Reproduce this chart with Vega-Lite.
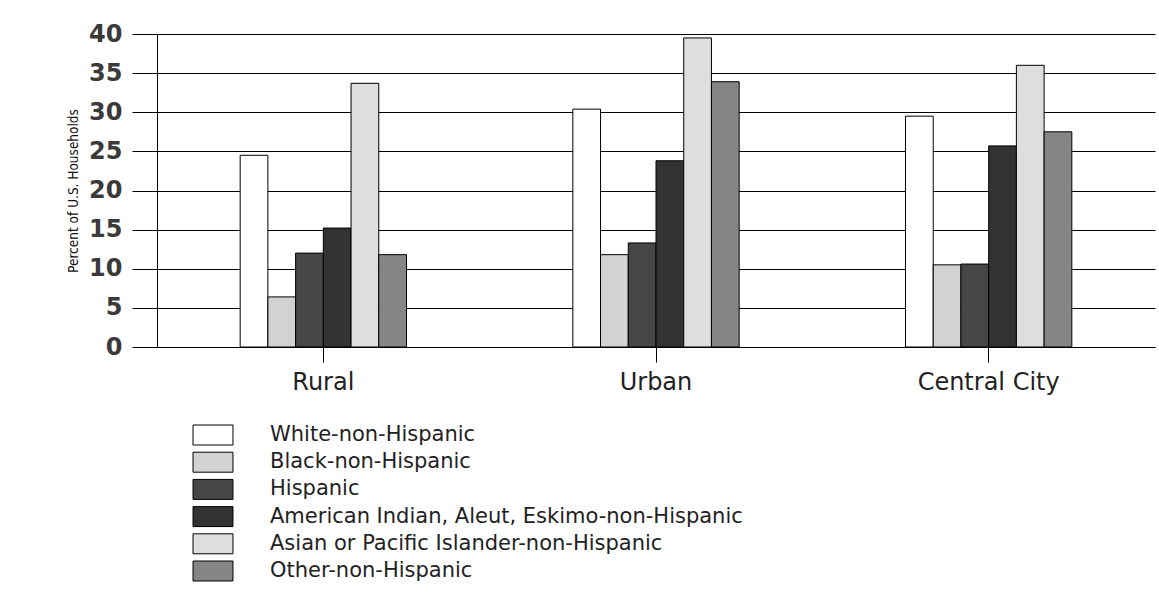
{
  "$schema": "https://vega.github.io/schema/vega-lite/v6.json",
  "autosize": {"type": "none"},
  "padding": {"left": 157, "top": 34, "right": 2, "bottom": 255},
  "width": 998,
  "height": 313,
  "background": "white",
  "config": {
    "view": {"stroke": null},
    "font": "DejaVu Sans"
  },
  "data": {
    "values": [
      {"area": "Rural", "group": "White-non-Hispanic", "pct": 24.5},
      {"area": "Rural", "group": "Black-non-Hispanic", "pct": 6.4},
      {"area": "Rural", "group": "Hispanic", "pct": 12.0},
      {"area": "Rural", "group": "American Indian, Aleut, Eskimo-non-Hispanic", "pct": 15.2},
      {"area": "Rural", "group": "Asian or Pacific Islander-non-Hispanic", "pct": 33.7},
      {"area": "Rural", "group": "Other-non-Hispanic", "pct": 11.8},
      {"area": "Urban", "group": "White-non-Hispanic", "pct": 30.4},
      {"area": "Urban", "group": "Black-non-Hispanic", "pct": 11.8},
      {"area": "Urban", "group": "Hispanic", "pct": 13.3},
      {"area": "Urban", "group": "American Indian, Aleut, Eskimo-non-Hispanic", "pct": 23.8},
      {"area": "Urban", "group": "Asian or Pacific Islander-non-Hispanic", "pct": 39.5},
      {"area": "Urban", "group": "Other-non-Hispanic", "pct": 33.9},
      {"area": "Central City", "group": "White-non-Hispanic", "pct": 29.5},
      {"area": "Central City", "group": "Black-non-Hispanic", "pct": 10.5},
      {"area": "Central City", "group": "Hispanic", "pct": 10.6},
      {"area": "Central City", "group": "American Indian, Aleut, Eskimo-non-Hispanic", "pct": 25.7},
      {"area": "Central City", "group": "Asian or Pacific Islander-non-Hispanic", "pct": 36.0},
      {"area": "Central City", "group": "Other-non-Hispanic", "pct": 27.5}
    ]
  },
  "mark": {"type": "bar", "stroke": "black", "strokeWidth": 1},
  "encoding": {
    "x": {
      "field": "area", "type": "nominal",
      "sort": ["Rural", "Urban", "Central City"],
      "scale": {"paddingInner": 0.5, "paddingOuter": 0.25},
      "axis": {
        "title": null, "labelAngle": 0, "labelFontSize": 24, "labelColor": "#222",
        "labelPadding": 8, "tickSize": 15, "tickColor": "black",
        "domainColor": "black", "grid": false
      }
    },
    "xOffset": {
      "field": "group", "type": "nominal",
      "sort": ["White-non-Hispanic", "Black-non-Hispanic", "Hispanic", "American Indian, Aleut, Eskimo-non-Hispanic", "Asian or Pacific Islander-non-Hispanic", "Other-non-Hispanic"],
      "scale": {"paddingInner": 0, "paddingOuter": 0}
    },
    "y": {
      "field": "pct", "type": "quantitative",
      "scale": {"domain": [0, 40]},
      "axis": {
        "title": "Percent of U.S. Households", "titleFont": "DejaVu Sans Condensed, Liberation Sans",
        "titleFontSize": 13.5, "titleFontWeight": "normal", "titleColor": "#111",
        "titlePadding": 8,
        "values": [0, 5, 10, 15, 20, 25, 30, 35, 40],
        "labelFontSize": 24, "labelFontWeight": "bold", "labelColor": "#3a3a3a", "labelPadding": 10,
        "tickSize": 25, "tickColor": "black", "domainColor": "black",
        "gridColor": "black", "gridOpacity": 1, "gridWidth": 1
      }
    },
    "fill": {
      "field": "group", "type": "nominal",
      "sort": ["White-non-Hispanic", "Black-non-Hispanic", "Hispanic", "American Indian, Aleut, Eskimo-non-Hispanic", "Asian or Pacific Islander-non-Hispanic", "Other-non-Hispanic"],
      "scale": {
        "domain": ["White-non-Hispanic", "Black-non-Hispanic", "Hispanic", "American Indian, Aleut, Eskimo-non-Hispanic", "Asian or Pacific Islander-non-Hispanic", "Other-non-Hispanic"],
        "range": ["#ffffff", "#d2d2d2", "#474747", "#333333", "#dedede", "#858585"]
      },
      "legend": {
        "title": null, "orient": "none", "legendX": 42, "legendY": 387,
        "symbolType": "M-1.48,-0.74H1.48V0.74H-1.48Z", "symbolSize": 729,
        "symbolStrokeColor": "black", "symbolStrokeWidth": 1, "symbolOpacity": 1,
        "labelFontSize": 21, "labelColor": "#222", "labelOffset": 43,
        "rowPadding": 1.2, "labelLimit": 900
      }
    }
  }
}
